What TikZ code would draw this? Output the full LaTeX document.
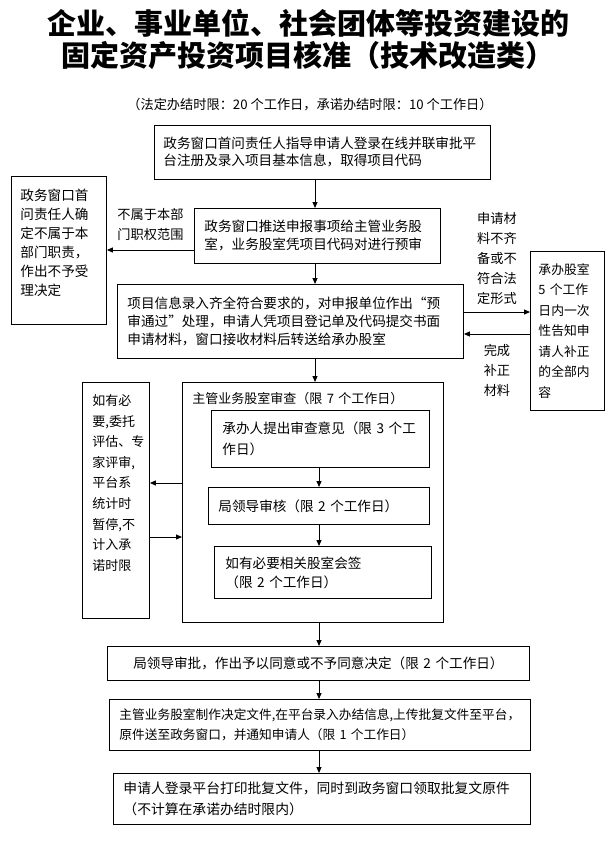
\documentclass[tikz,border=0pt]{standalone}
\usepackage{fontspec}
\setmainfont{Noto Sans CJK SC}
\usetikzlibrary{arrows.meta}
\begin{document}
\begin{tikzpicture}[x=1pt,y=-1pt]
\tikzstyle{box}=[draw, line width=0.9pt, anchor=north west, align=left, inner xsep=10pt, inner ysep=0pt, font=\fontsize{13.6pt}{18pt}\selectfont]
\tikzstyle{topbox}=[box, inner ysep=4pt]
\tikzstyle{arr}=[line width=0.9pt, -{Triangle[length=6pt,width=5pt]}]
\tikzstyle{note}=[align=left, inner sep=2pt, font=\fontsize{13.2pt}{20pt}\selectfont]
\useasboundingbox (0,0) rectangle (613,843);

% title
\node[font=\bfseries\fontsize{29pt}{32pt}\selectfont, align=center] (title) at (308,39)
  {企业、事业单位、社会团体等投资建设的\\固定资产投资项目核准（技术改造类）};
\node[font=\fontsize{13.2pt}{16pt}\selectfont] (limit) at (310,105)
  {（法定办结时限：20 个工作日，承诺办结时限：10 个工作日）};

% main line
\node[box, text width=318pt, minimum height=54pt, inner xsep=9pt, font=\fontsize{13.6pt}{17pt}\selectfont] (login) at (154,125)
  {政务窗口首问责任人指导申请人登录在线并联审批平\\台注册及录入项目基本信息，取得项目代码};
\node[box, text width=226pt, minimum height=55pt] (prereview) at (194,208)
  {政务窗口推送申报事项给主管业务股\\室，业务股室凭项目代码对进行预审};
\node[box, text width=326pt, minimum height=74pt] (pass) at (117,284)
  {项目信息录入齐全符合要求的，对申报单位作出“预\\审通过”处理，申请人凭项目登记单及代码提交书面\\申请材料，窗口接收材料后转送给承办股室};

% side boxes
\node[topbox, text width=77pt, inner xsep=9pt, text height=20pt, text depth=120pt, font=\fontsize{13.6pt}{19pt}\selectfont] (reject) at (11,176)
  {政务窗口首\\问责任人确\\定不属于本\\部门职责，\\作出不予受\\理决定};
\node[box, text width=58pt, inner xsep=8pt, minimum height=159pt, font=\fontsize{12.8pt}{20.5pt}\selectfont] (notify) at (530,251)
  {承办股室\\5 个工作\\日内一次\\性告知申\\请人补正\\的全部内\\容};
\node[topbox, text width=47pt, text height=19pt, text depth=209pt, font=\fontsize{13pt}{20.6pt}\selectfont] (pause) at (82,382)
  {如有必\\要,委托\\评估、专\\家评审,\\平台系\\统计时\\暂停,不\\计入承\\诺时限};

% review stage
\node[topbox, text width=241pt, text height=17pt, text depth=215pt, font=\fontsize{13pt}{18pt}\selectfont] (review) at (182,382)
  {主管业务股室审查（限 7 个工作日）};
\node[box, text width=196pt, inner xsep=11pt, minimum height=57pt, font=\fontsize{13.6pt}{21pt}\selectfont] (opinion) at (211,410)
  {承办人提出审查意见（限 3 个工\\作日）};
\node[box, text width=201pt, minimum height=37pt] (leadcheck) at (208,487)
  {局领导审核（限 2 个工作日）};
\node[box, text width=195pt, inner xsep=11pt, minimum height=52pt, font=\fontsize{13.6pt}{19pt}\selectfont] (cosign) at (214,546)
  {如有必要相关股室会签\\（限 2 个工作日）};

% final steps
\node[box, text width=402pt, minimum height=34pt, align=center] (approve) at (107,646)
  {局领导审批，作出予以同意或不予同意决定（限 2 个工作日）};
\node[box, text width=401pt, minimum height=51pt, font=\fontsize{12.7pt}{20pt}\selectfont] (decide) at (109,699)
  {主管业务股室制作决定文件,在平台录入办结信息,上传批复文件至平台，\\原件送至政务窗口，并通知申请人（限 1 个工作日）};
\node[box, text width=397pt, minimum height=51pt, font=\fontsize{13.8pt}{21pt}\selectfont] (collect) at (113,773)
  {申请人登录平台打印批复文件，同时到政务窗口领取批复文原件\\（不计算在承诺办结时限内）};

% axes for connectors
\coordinate (up) at (315,0);
\coordinate (down) at (319,0);
\coordinate (r1) at (0,250);
\coordinate (r2) at (0,312);
\coordinate (r3) at (0,334);
\coordinate (r4) at (0,483);
\coordinate (r5) at (0,537);

\draw[arr] (login.south -| up) -- (prereview.north -| up);
\draw[arr] (prereview.south -| up) -- (pass.north -| up);
\draw[arr] (pass.south -| up) -- (review.north -| up);
\draw[arr] (opinion.south -| down) -- (leadcheck.north -| down);
\draw[arr] (leadcheck.south -| down) -- (cosign.north -| down);
\draw[arr] (review.south -| down) -- (approve.north -| down);
\draw[arr] (approve.south -| down) -- (decide.north -| down);
\draw[arr] (decide.south -| down) -- (collect.north -| down);

\draw[arr] (prereview.west |- r1) -- node[note, above=7pt] {不属于本部\\门职权范围} (reject.east |- r1);
\draw[arr] (pass.east |- r2) -- node[note, above=5pt] {申请材\\料不齐\\备或不\\符合法\\定形式} (notify.west |- r2);
\draw[arr] (notify.west |- r3) -- node[note, below=8pt] {完成\\补正\\材料} (pass.east |- r3);
\draw[arr] (review.west |- r4) -- (pause.east |- r4);
\draw[arr] (pause.east |- r5) -- (review.west |- r5);
\end{tikzpicture}
\end{document}
